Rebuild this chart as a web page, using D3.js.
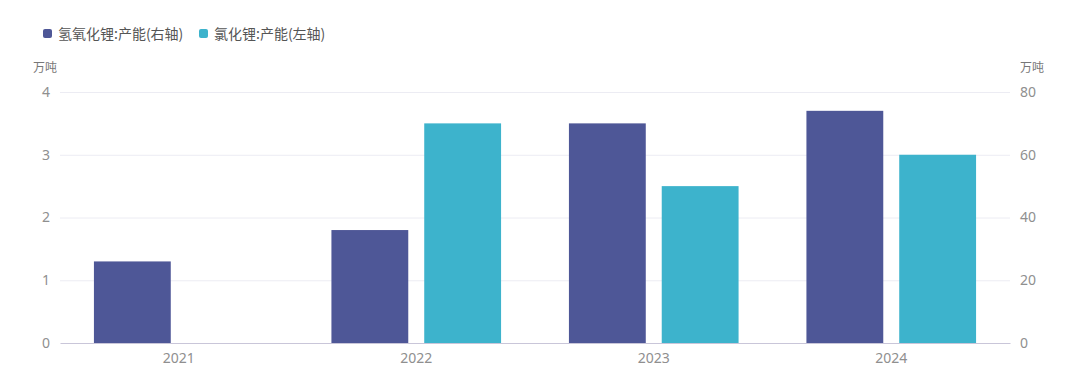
<!DOCTYPE html>
<html><head><meta charset="utf-8">
<script src="https://cdn.jsdelivr.net/npm/d3@7/dist/d3.min.js"></script>
<style>
html,body{margin:0;padding:0;background:#fff;}
svg{display:block;font-family:"Microsoft YaHei","Noto Sans CJK SC","Noto Sans",sans-serif;}
</style></head>
<body><svg id="c" width="1080" height="392"></svg>
<script>
const categories = ["2021","2022","2023","2024"];
const seriesNames = ["氢氧化锂:产能(右轴)","氯化锂:产能(左轴)"];
const lioh = [26, 36, 70, 74];          // right axis, 万吨
const licl = [null, 3.5, 2.5, 3.0];      // left axis, 万吨
const leftTicks = [0,1,2,3,4];
const rightTicks = [0,20,40,60,80];
const unitLabel = "万吨";
const colors = ["#4e5797","#3db3cc"];

const svg = d3.select("#c");
const m = {l:60, r:1010, t:92, b:343};
const x = d3.scaleBand().domain(categories).range([m.l, m.r]).paddingInner(0).paddingOuter(0);
const yL = d3.scaleLinear().domain([0,4]).range([m.b, m.t]);
const yR = d3.scaleLinear().domain([0,80]).range([m.b, m.t]);
// layout inside band: padding 34, bar 77, gap 16, bar 77, padding 34
const bw = x.bandwidth();
const barW = bw*77/238, gap = bw*16/238, pad = (bw - 2*barW - gap)/2;
const fmt = d3.format("d");

// gridlines
svg.append("g").selectAll("line").data(leftTicks.filter(d=>d>0)).join("line")
  .attr("x1", m.l).attr("x2", m.r).attr("y1", d=>yL(d)+0.5).attr("y2", d=>yL(d)+0.5)
  .attr("stroke","#ececf3").attr("stroke-width",1);

// left axis labels
const axL = svg.append("g").attr("transform",`translate(${m.l},0)`)
  .call(d3.axisLeft(yL).tickValues(leftTicks).tickFormat(fmt).tickSize(0).tickPadding(10));
axL.select(".domain").remove();
axL.selectAll("text").attr("fill","#8f8f8f").style("font-size","14px").style("font-family","'Noto Sans',sans-serif");

const axR = svg.append("g").attr("transform",`translate(${m.r},0)`)
  .call(d3.axisRight(yR).tickValues(rightTicks).tickFormat(fmt).tickSize(0).tickPadding(10));
axR.select(".domain").remove();
axR.selectAll("text").attr("fill","#8f8f8f").style("font-size","14px").style("font-family","'Noto Sans',sans-serif");

// units
svg.append("text").attr("x",45).attr("y",72).attr("text-anchor","middle").attr("fill","#777").style("font-size","12px").text(unitLabel);
svg.append("text").attr("x",1032).attr("y",72).attr("text-anchor","middle").attr("fill","#777").style("font-size","12px").text(unitLabel);

// bars
svg.append("g").selectAll("rect").data(categories.map((c,i)=>({c,v:lioh[i]}))).join("rect")
  .attr("x", d=>x(d.c)+pad).attr("width", barW)
  .attr("y", d=>yR(d.v)).attr("height", d=>yR(0)-yR(d.v)).attr("fill", colors[0]);
svg.append("g").selectAll("rect").data(categories.map((c,i)=>({c,v:licl[i]})).filter(d=>d.v!=null)).join("rect")
  .attr("x", d=>x(d.c)+pad+barW+gap).attr("width", barW)
  .attr("y", d=>yL(d.v)).attr("height", d=>yL(0)-yL(d.v)).attr("fill", colors[1]);

// x axis
const axB = svg.append("g").attr("transform",`translate(0,${m.b})`)
  .call(d3.axisBottom(x).tickSize(0).tickPadding(10));
axB.select(".domain").attr("stroke","#c9c6d9").attr("stroke-width",1.2);
axB.selectAll("text").attr("fill","#8f8f8f").style("font-size","14px").style("font-family","'Noto Sans',sans-serif");

// legend
const leg = svg.append("g");
const legX = [43, 199];
seriesNames.forEach((n,i)=>{
  leg.append("rect").attr("x",legX[i]).attr("y",29).attr("width",9).attr("height",9).attr("rx",2).attr("fill",colors[i]);
  leg.append("text").attr("x",legX[i]+15).attr("y",39).attr("fill","#555").style("font-size","14px").text(n);
});
</script></body></html>
